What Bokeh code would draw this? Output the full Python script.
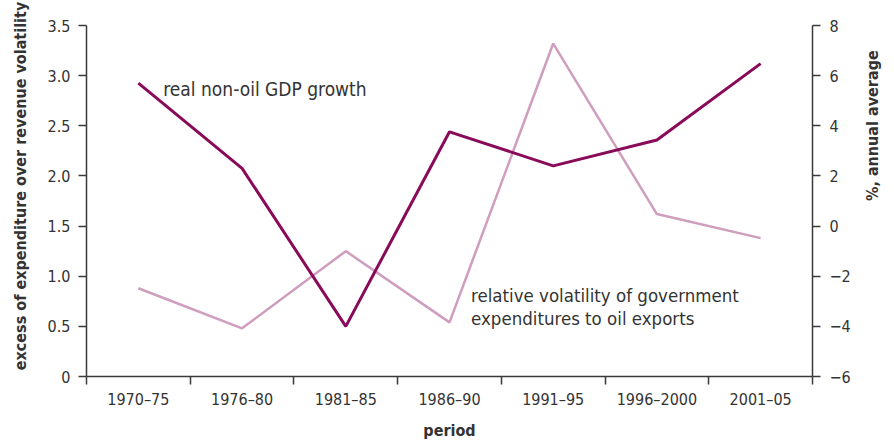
import math
from bokeh.plotting import figure
from bokeh.models import Range1d, LinearAxis, FixedTicker, Label, ColumnDataSource
from bokeh.embed import file_html
from bokeh.resources import INLINE

periods = ["1970–75", "1976–80", "1981–85", "1986–90", "1991–95", "1996–2000", "2001–05"]
volatility = [0.88, 0.48, 1.25, 0.54, 3.32, 1.62, 1.38]       # left axis
gdp_growth = [5.7, 2.3, -4.0, 3.76, 2.4, 3.43, 6.48]          # right axis, %
left_ticks = [0, 0.5, 1.0, 1.5, 2.0, 2.5, 3.0, 3.5]
left_labels = ["0", "0.5", "1.0", "1.5", "2.0", "2.5", "3.0", "3.5"]
right_ticks = [-6, -4, -2, 0, 2, 4, 6, 8]
right_labels = ["−6", "−4", "−2", "0", "2", "4", "6", "8"]

FONT = "'DejaVu Sans Condensed', 'Roboto Condensed', 'Liberation Sans Narrow', Roboto, sans-serif"
TXT = "#333333"
AX = "#3a3a3a"
DARK = "#8a0a5a"
LIGHT = "#cf9dbd"
NBSP = "\u00a0"

n = len(periods)
xs = [i + 0.5 for i in range(n)]

p = figure(width=894, height=444, output_backend="svg", toolbar_location=None,
           x_range=Range1d(0, n), y_range=Range1d(left_ticks[0], left_ticks[-1]),
           min_border_left=86, min_border_right=78, min_border_top=25, min_border_bottom=68)
p.outline_line_color = None
p.grid.visible = False
p.extra_y_ranges = {"right": Range1d(right_ticks[0], right_ticks[-1])}

src = ColumnDataSource(dict(x=xs, vol=volatility, gdp=gdp_growth))
p.line("x", "vol", source=src, line_color=LIGHT, line_width=2.5)
p.line("x", "gdp", source=src, line_color=DARK, line_width=3, y_range_name="right")

# x axis
xa = p.xaxis[0]
xa.ticker = FixedTicker(ticks=xs, minor_ticks=list(range(n + 1)))
xa.major_label_overrides = {x: lab for x, lab in zip(xs, periods)}
xa.minor_tick_in = 0
xa.minor_tick_out = 8
xa.minor_tick_line_color = AX
xa.major_label_standoff = 5
xa.axis_label = "period"
xa.axis_label_standoff = 9

# left axis
ya = p.yaxis[0]
ya.ticker = FixedTicker(ticks=left_ticks, minor_ticks=[])
ya.major_label_overrides = {t: lab for t, lab in zip(left_ticks, left_labels)}
ya.major_tick_in = 0
ya.major_tick_out = 8
ya.major_label_standoff = 8
ya.axis_label = NBSP * 6 + "excess of expenditure over revenue volatility"
ya.axis_label_standoff = 15

# right axis (title reads bottom-to-top, starting near the middle of the axis)
ra = LinearAxis(y_range_name="right")
ra.ticker = FixedTicker(ticks=right_ticks, minor_ticks=[])
ra.major_label_overrides = {t: lab for t, lab in zip(right_ticks, right_labels)}
ra.major_tick_in = 0
ra.major_tick_out = 8
ra.major_label_standoff = 9
ra.axis_label = "%, annual average"
ra.axis_label_orientation = math.pi / 2
ra.axis_label_standoff = 19
p.add_layout(ra, "right")

for ax in [xa, ya, ra]:
    ax.axis_line_color = AX
    ax.axis_line_width = 1.5
    ax.major_tick_line_color = AX if ax is not xa else None
    ax.major_tick_line_width = 1.5
    ax.minor_tick_line_width = 1.5
    ax.major_label_text_font = FONT
    ax.major_label_text_font_size = "16px"
    ax.major_label_text_color = TXT
    ax.axis_label_text_font = FONT
    ax.axis_label_text_font_style = "bold"
    ax.axis_label_text_font_size = "16px"
    ax.axis_label_text_color = TXT

# annotations
p.add_layout(Label(x=0.74, y=2.862, text="real non-oil GDP growth", text_align="left",
                   text_baseline="middle", text_font=FONT, text_font_size="19px", text_color=TXT))
p.add_layout(Label(x=3.708, y=0.808, text="relative volatility of government", text_align="left",
                   text_baseline="middle", text_font=FONT, text_font_size="18.5px", text_color=TXT))
p.add_layout(Label(x=3.708, y=0.581, text="expenditures to oil exports", text_align="left",
                   text_baseline="middle", text_font=FONT, text_font_size="18.5px", text_color=TXT))

open("out.html", "w").write(file_html(p, INLINE))
